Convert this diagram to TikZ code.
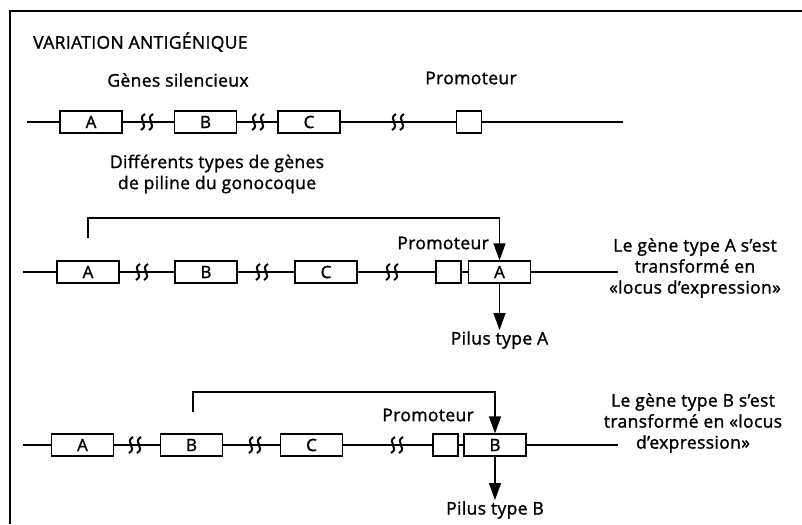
\documentclass[tikz,border=0pt]{standalone}
\usepackage{fontspec}
\setmainfont{Open Sans}[FakeBold=1.4, LetterSpace=2]
\usetikzlibrary{arrows.meta, positioning}

\tikzset{
    gene/.style={draw, line width=1.3pt, minimum width=62pt, minimum height=22pt, inner sep=0pt, font=\fontsize{17}{17}\selectfont},
    promo/.style={draw, line width=1.3pt, minimum width=25pt, minimum height=22pt, inner sep=0pt},
    dna/.style={line width=1.3pt},
    txt/.style={font=\fontsize{17.5}{21}\selectfont, align=center, inner sep=1pt},
    jump/.style={-{Triangle[length=17pt, width=12pt]}, line width=1.3pt},
    brk/.pic={\foreach \d in {-4,4} \draw[line width=2pt] (\d+2,-8) .. controls (\d-7,-3) and (\d+7,3) .. (\d-2,8);}
}

\begin{document}
\begin{tikzpicture}[x=1pt, y=-1pt]
    \useasboundingbox (0,0) rectangle (802,524);
    % frame
    \draw[line width=2pt] (10,524) -- (10,11.5) -- (802,11.5);
    \node[txt, anchor=west] (title) at (32,42) {VARIATION ANTIGÉNIQUE};

    % silent genes
    \node[txt] (silent) at (178,80) {Gènes silencieux};
    \node[txt] (prom1) at (471,78) {Promoteur};
    \coordinate (s1) at (27,122);
    \coordinate (e1) at (623,122);
    \node[gene] (a1) at (91,122) {A};
    \node[gene] (b1) at (205.5,122) {B};
    \node[gene] (c1) at (309,122) {C};
    \node[promo] (p1) at (469,122) {};
    \draw[dna] (s1) -- (a1) -- (b1) -- (c1) -- (p1) -- (e1);
    \foreach \x in {147, 258, 398} {
        \pic at (\x,122) {brk};
    }
    \node[txt] (types) at (217,174) {Différents types de gènes\\de piline du gonocoque};

    % type A expressed
    \coordinate (s2) at (23,272);
    \coordinate (e2) at (618,272);
    \coordinate (t2) at (88,238);
    \node[gene] (a2) at (88,272) {A};
    \node[gene] (b2) at (206,272) {B};
    \node[gene] (c2) at (326,272) {C};
    \node[promo] (p2) at (448.5,272) {};
    \node[gene] (xa) at (499.5,272) {A};
    \draw[dna] (s2) -- (a2) -- (b2) -- (c2) -- (p2) -- (xa) -- (e2);
    \foreach \x in {142, 262, 392} {
        \pic at (\x,272) {brk};
    }
    \draw[jump] (t2) -- ++(0,-20) -| (xa.north);
    \node[txt, anchor=east] (prom2) at (490,243) {Promoteur};
    \node[txt] (pa) at (499.5,340) {Pilus type A};
    \draw[jump] (xa) -- (pa);
    \node[txt] (noteA) at (695,268) {Le gène type A s’est\\transformé en\\«locus d’expression»};

    % type B expressed
    \coordinate (s3) at (23,445);
    \coordinate (e3) at (618,445);
    \coordinate (t3) at (193,412);
    \node[gene] (a3) at (82.5,445) {A};
    \node[gene] (b3) at (191.5,445) {B};
    \node[gene] (c3) at (311.5,445) {C};
    \node[promo] (p3) at (445.5,445) {};
    \node[gene] (xb) at (495,445) {B};
    \draw[dna] (s3) -- (a3) -- (b3) -- (c3) -- (p3) -- (xb) -- (e3);
    \foreach \x in {135, 255, 397} {
        \pic at (\x,445) {brk};
    }
    \draw[jump] (t3) -- ++(0,-20) -| (xb.north);
    \node[txt, anchor=east] (prom3) at (475,415) {Promoteur};
    \node[txt] (pb) at (495,510) {Pilus type B};
    \draw[jump] (xb) -- (pb);
    \node[txt] (noteB) at (693,423) {Le gène type B s’est\\transformé en «locus\\d’expression»};
\end{tikzpicture}
\end{document}
